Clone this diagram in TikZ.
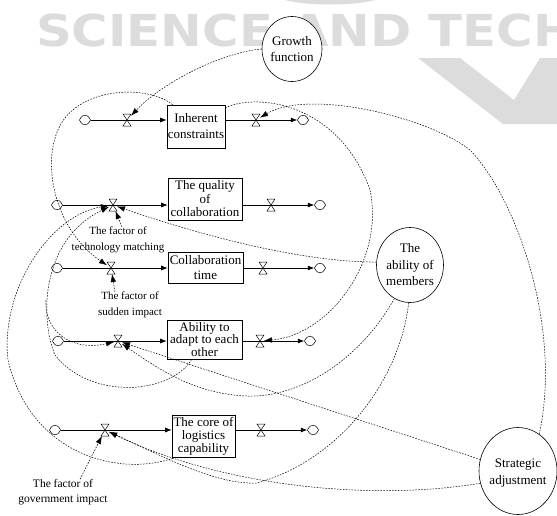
\documentclass[tikz,border=0pt]{standalone}
\usepackage{fontspec}
\setmainfont{Liberation Serif}
\newfontfamily\wmfont{DejaVu Sans}
\usetikzlibrary{shapes.geometric,shapes.symbols,arrows.meta}
\definecolor{wmgray}{RGB}{220,220,220}
\newcommand{\Valve}[2]{%
  \node[valvebox] (#1) at (#2) {};
  \draw[valveglyph] (#1.north west) -- (#1.north east) -- (#1.south west) -- (#1.south east) -- cycle;}
\begin{document}
\begin{tikzpicture}[x=1pt,y=-1pt,
  box/.style={draw, line width=0.6pt, fill=white, inner sep=0pt, align=center, font=\fontsize{13}{#1}\selectfont},
  circ/.style={ellipse, draw, line width=0.6pt, fill=white, inner sep=0pt},
  ctext/.style={align=center, inner sep=0pt, font=\fontsize{13}{16.5}\selectfont},
  lbl/.style={align=center, inner sep=0pt, font=\fontsize{11}{15.5}\selectfont},
  valvebox/.style={inner sep=0pt, outer sep=0pt, minimum width=8pt, minimum height=12pt},
  valveglyph/.style={line width=0.5pt, fill=white},
  cld/.style={cloud, cloud puffs=4, cloud puff arc=120, draw, line width=0.5pt, fill=white, minimum width=11pt, minimum height=9.5pt, inner sep=0pt},
  flow/.style={line width=0.7pt},
  into/.style={-{Latex[length=6.5pt,width=5pt]}},
  link/.style={line width=0.5pt, dash pattern=on 1.6pt off 1.3pt, -{Latex[length=8pt,width=5.5pt]}},
]
\useasboundingbox (0,0) rectangle (557,515);
\clip (0,0) rectangle (557,515);
% watermark
\node[anchor=north west, inner sep=0pt, text=wmgray, font=\wmfont\bfseries\fontsize{44}{44}\selectfont] (wm) at (36,14) {\scalebox{1.13}[1]{SCIENCE AND TECH}};
\fill[wmgray] (418,58) -- (460,58) -- (514,100) -- (540,58) -- (557,58) -- (557,124) -- (503,124) -- cycle;
\fill[wmgray] (285,0) .. controls (305,6) and (355,6) .. (375,0) -- cycle;

% auxiliaries
\node[circ, minimum width=60pt, minimum height=65pt] (growth) at (292,49) {};
\node[ctext] (growthT) at (292,49) {Growth\\function};
\node[circ, minimum width=67pt, minimum height=75pt] (ability) at (410,265) {};
\node[ctext] (abilityT) at (410,265) {The\\ability of\\members};
\node[circ, minimum width=78pt, minimum height=87pt] (strat) at (518,471) {};
\node[ctext] (stratT) at (518,473) {Strategic\\adjustment};

% stocks
\node[box=16, minimum width=58pt, minimum height=43pt] (box1) at (196,126.5) {Inherent\\constraints};
\node[box=13.5, minimum width=74pt, minimum height=42pt] (box2) at (205,199) {The quality\\of\\collaboration};
\node[box=15, minimum width=75pt, minimum height=31pt] (box3) at (205.5,267.5) {Collaboration\\time};
\node[box=11.5, minimum width=75pt, minimum height=39pt] (box4) at (204.5,339.5) {Ability to\\adapt to each\\other};
\node[box=13, minimum width=63pt, minimum height=42pt] (box5) at (203.5,436) {The core of\\logistics\\capability};

% clouds
\node[cld] (c1a) at (85,120) {};
\node[cld] (c1b) at (303,120) {};
\node[cld] (c2a) at (57,205) {};
\node[cld] (c2b) at (320,205) {};
\node[cld] (c3a) at (57,268) {};
\node[cld] (c3b) at (320,268) {};
\node[cld] (c4a) at (58,341) {};
\node[cld] (c4b) at (310,341) {};
\node[cld] (c5a) at (55,430) {};
\node[cld] (c5b) at (313,430) {};

% valves
\Valve{v1a}{127,120}
\Valve{v1b}{256,120}
\Valve{v2a}{113,205}
\Valve{v2b}{271,205}
\Valve{v3a}{111,268}
\Valve{v3b}{263,268}
\Valve{v4a}{118,341}
\Valve{v4b}{260,341}
\Valve{v5a}{105,430}
\Valve{v5b}{261,430}

% flows
\foreach \r in {1,2,3,4,5}{
  \draw[flow] (c\r a) -- (v\r a.center);
  \draw[flow,into] (v\r a.center) -- (v\r a -| box\r.west);
  \draw[flow] (box\r.east |- v\r b) -- (v\r b.center);
  \draw[flow,into] (v\r b.center) -- (c\r b);
}

% labels
\node[lbl] (tech) at (118,240) {The factor of\\technology matching};
\node[lbl] (sudden) at (130,305) {The factor of\\sudden impact};
\node[lbl, font=\fontsize{11.5}{14.5}\selectfont] (gov) at (63,492) {The factor of\\government impact};
\coordinate (techtop) at ([xshift=4pt]tech.north);
\coordinate (suddentop) at ([xshift=-15pt]sudden.north);
\coordinate (govtop) at ([xshift=17pt]gov.north);
\coordinate (dtail) at (46,300);

% links
\draw[link] (growth.west) .. controls (225,52) and (165,80) .. (v1a);
\draw[link] ([xshift=6pt]box1.north west) .. controls (145,83) and (75,88) .. (58,130) .. controls (42,165) and (55,230) .. (v3a);
\draw[link] ([yshift=-3pt]box1.north east) .. controls (260,92) and (340,105) .. (370,190) .. controls (385,260) and (330,335) .. (v4b);
\draw[link] (strat.60) .. controls (562,330) and (518,200) .. (470,150) .. controls (430,118) and (310,88) .. (v1b);
\draw[link] (ability.175) .. controls (300,262) and (200,235) .. (v2a);
\draw[link] (ability.245) .. controls (360,360) and (300,398) .. (247,396) .. controls (195,394) and (160,370) .. (v4a);
\draw[link] (ability.268) .. controls (400,380) and (340,460) .. (257,483) .. controls (215,485) and (160,455) .. (v5a);
\draw[link] (strat.163) -- (v4a);
\draw[link] (strat.198) .. controls (380,500) and (230,490) .. (v5a);
\draw[link] (govtop) -- (v5a);
\draw[link] (techtop) -- (v2a);
\draw[link] (suddentop) -- (v3a);
\draw[link] ([xshift=4pt]box5.south west) .. controls (120,478) and (30,455) .. (8,360) .. controls (0,290) and (50,215) .. (v2a);
\draw[link] ([xshift=25pt]box4.south west) .. controls (170,395) and (90,400) .. (55,355) .. controls (40,320) and (40,240) .. (v2a);
\draw[link] (dtail) .. controls (44,330) and (70,352) .. (v4a);
\end{tikzpicture}
\end{document}
